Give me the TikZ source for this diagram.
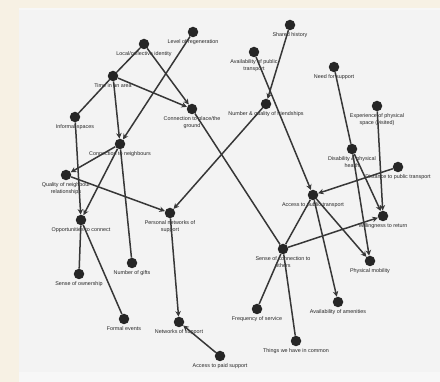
\documentclass[tikz,border=0pt]{standalone}
\usepackage{fontspec}
\setmainfont{Liberation Sans}
\usetikzlibrary{arrows.meta}

\definecolor{cream}{HTML}{F7F1E4}
\definecolor{panel}{HTML}{F3F3F3}
\definecolor{ink}{HTML}{262626}

\begin{document}
\begin{tikzpicture}[x=1pt, y=-1pt,
    factor/.style={circle, fill=ink, inner sep=0pt, minimum size=10.5pt},
    tag/.style={font=\fontsize{5.4}{6.2}\selectfont, text=ink, align=center, inner sep=0pt},
    every label/.style={tag},
    label distance=2.3pt,
    link/.style={draw=ink!92, line width=1.5pt},
    cause/.style={link, -{Stealth[length=5.5pt,width=5.5pt]}}]

    % Background
    \fill[cream] (0,0) rectangle (440,382);
    \fill[white!97!black] (19,8) rectangle (440,382);
    \fill[panel] (19,10) rectangle (440,372);
    \useasboundingbox (0,0) rectangle (440,382);

    % Factors
    \node[factor, label=below:Level of regeneration] (regen) at (193,32) {};
    \node[factor, label=below:Local/collective identity] (ident) at (144,44) {};
    \node[factor, label=below:Time in an area] (time) at (113,76) {};
    \node[factor, label=below:Informal spaces] (informal) at (75,117) {};
    \node[factor, label=below:{Connection to place/the\\ground}] (place) at (192,109) {};
    \node[factor, label=below:Shared history] (history) at (290,25) {};
    \node[factor, label=below:{Availability of public\\transport}] (avail) at (254,52) {};
    \node[factor, label=below:Need for support] (need) at (334,67) {};
    \node[factor, label=below:Number \& quality of friendships] (friends) at (266,104) {};
    \node[factor, label=below:{Experience of physical\\space (visited)}] (experience) at (377,106) {};
    \node[factor, label=below:Connection to neighbours] (neigh) at (120,144) {};
    \node[factor, label=below:{Quality of neighbour\\relationships}] (quality) at (66,175) {};
    \node[factor, label=below:Opportunities to connect] (opport) at (81,220) {};
    \node[factor, label=below:{Personal networks of\\support}] (personal) at (170,213) {};
    \node[factor, label=below:{Disability \& physical\\health}] (disab) at (352,149) {};
    \node[factor, label=below:Distance to public transport] (distance) at (398,167) {};
    \node[factor, label=below:Access to public transport] (access) at (313,195) {};
    \node[factor, label=below:Willingness to return] (willing) at (383,216) {};
    \node[factor, label=below:{Sense of connection to\\others}] (sense) at (283,249) {};
    \node[factor, label=below:Physical mobility] (mobility) at (370,261) {};
    \node[factor, label=below:Availability of amenities] (amenities) at (338,302) {};
    \node[factor, label=below:Frequency of service] (frequency) at (257,309) {};
    \node[factor, label=below:Things we have in common] (common) at (296,341) {};
    \node[factor, label=below:Access to paid support] (paid) at (220,356) {};
    \node[factor, label=below:Sense of ownership] (ownership) at (79,274) {};
    \node[factor, label=below:Number of gifts] (gifts) at (132,263) {};
    \node[factor, label=below:Formal events] (events) at (124,319) {};
    \node[factor, label=below:Networks of support] (networks) at (179,322) {};

    % Links
    \draw[link] (time) -- (ident);
    \draw[cause] (ident) -- (place);
    \draw[cause] (time) -- (place);
    \draw[link] (time) -- (informal);
    \draw[cause] (time) -- (neigh);
    \draw[cause] (regen) -- (neigh);
    \draw[cause] (informal) -- (opport);
    \draw[cause] (neigh) -- (quality);
    \draw[cause] (neigh) -- (opport);
    \draw[link] (neigh) -- (gifts);
    \draw[cause] (quality) -- (personal);
    \draw[link] (place) -- (sense);
    \draw[cause] (friends) -- (personal);
    \draw[cause] (history) -- (friends);
    \draw[cause] (avail) -- (access);
    \draw[link] (need) -- (disab);
    \draw[cause] (disab) -- (mobility);
    \draw[cause] (disab) -- (willing);
    \draw[cause] (access) -- (mobility);
    \draw[cause] (access) -- (amenities);
    \draw[cause] (distance) -- (access);
    \draw[cause] (experience) -- (willing);
    \draw[cause] (sense) -- (willing);
    \draw[link] (sense) -- (access);
    \draw[link] (sense) -- (frequency);
    \draw[link] (sense) -- (common);
    \draw[cause] (personal) -- (networks);
    \draw[cause] (paid) -- (networks);
    \draw[link] (opport) -- (ownership);
    \draw[link] (opport) -- (events);
\end{tikzpicture}
\end{document}
